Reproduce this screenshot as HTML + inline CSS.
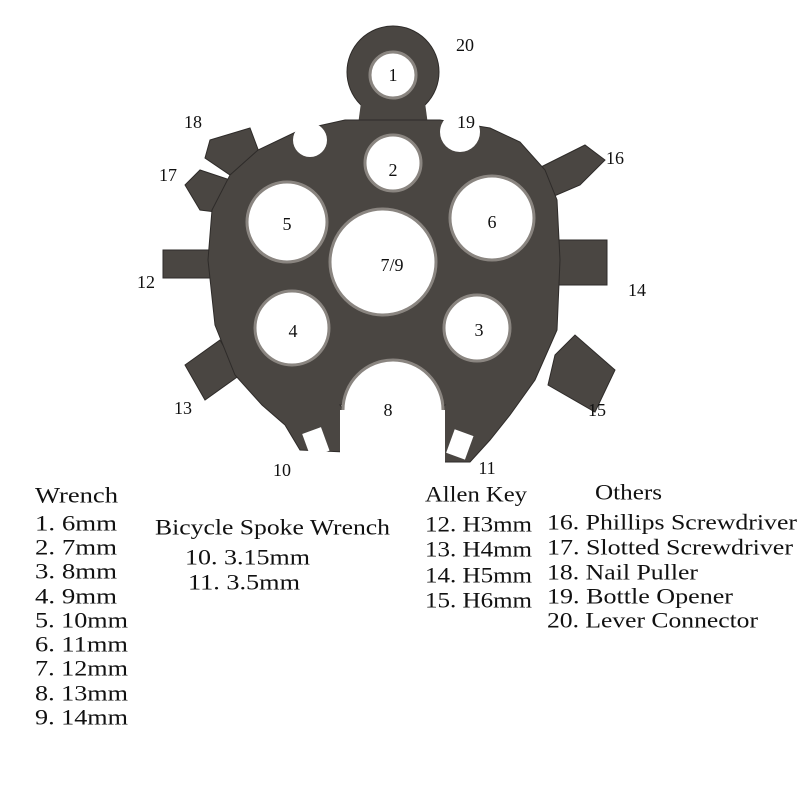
<!DOCTYPE html>
<html><head><style>
html,body{margin:0;padding:0;background:#fff;}
svg{display:block;}
text{font-family:"Liberation Serif",serif;fill:#111;}
</style></head><body>
<svg width="800" height="800" viewBox="0 0 800 800" xmlns="http://www.w3.org/2000/svg">
<rect width="800" height="800" fill="#fff"/>
<g fill="#4a4642" stroke="#2e2b29" stroke-width="1">
  <polygon points="210,140 250,128 262,160 230,175 205,158"/>
  <polygon points="185,185 200,170 245,185 240,215 200,210"/>
  <rect x="163" y="250" width="55" height="28"/>
  <rect x="550" y="240" width="57" height="45"/>
  <polygon points="185,365 220,340 240,375 205,400"/>
  <polygon points="555,355 575,335 615,370 595,412 548,385"/>
  <polygon points="535,170 585,145 605,160 580,185 545,200"/>
  <circle cx="393" cy="72" r="46"/>
  <polygon points="362,95 424,95 430,140 356,140" stroke="none"/>
  <polygon points="230,175 258,150 300,130 345,120 440,120 490,128 520,142 545,170 557,200 560,260 557,330 535,380 510,415 490,440 470,462 425,462 418,430 445,405 340,405 360,430 345,452 300,450 285,425 262,405 235,375 215,325 208,260 212,210"/>
</g>
<g fill="#fff" stroke="#8a8580" stroke-width="3">
  <circle cx="393" cy="75" r="23"/>
  <circle cx="393" cy="163" r="28"/>
  <circle cx="287" cy="222" r="40"/>
  <circle cx="492" cy="218" r="42"/>
  <circle cx="383" cy="262" r="53"/>
  <circle cx="292" cy="328" r="37"/>
  <circle cx="477" cy="328" r="33"/>
  <circle cx="393" cy="410" r="50"/>
</g>
<g fill="#fff">
  <rect x="340" y="410" width="105" height="60"/>
  <circle cx="310" cy="140" r="17"/>
  <circle cx="460" cy="132" r="20"/>
  <rect x="305" y="430" width="20" height="25" transform="rotate(-20 315 440)"/>
  <rect x="450" y="432" width="20" height="25" transform="rotate(20 460 444)"/>
</g>
<g font-size="18" text-anchor="middle" dominant-baseline="central">
  <text x="393" y="75">1</text>
  <text x="393" y="170">2</text>
  <text x="287" y="224">5</text>
  <text x="492" y="222">6</text>
  <text x="392" y="265">7/9</text>
  <text x="293" y="331">4</text>
  <text x="479" y="330">3</text>
  <text x="388" y="410">8</text>
  <text x="465" y="45">20</text>
  <text x="193" y="122">18</text>
  <text x="466" y="122">19</text>
  <text x="168" y="175">17</text>
  <text x="615" y="158">16</text>
  <text x="146" y="282">12</text>
  <text x="637" y="290">14</text>
  <text x="183" y="408">13</text>
  <text x="597" y="410">15</text>
  <text x="282" y="470">10</text>
  <text x="487" y="468">11</text>
</g>
<g font-size="22" dominant-baseline="central">
  <text x="35" y="495" textLength="83" lengthAdjust="spacingAndGlyphs">Wrench</text>
  <text x="35" y="523" textLength="82" lengthAdjust="spacingAndGlyphs">1.  6mm</text>
  <text x="35" y="547" textLength="82" lengthAdjust="spacingAndGlyphs">2.  7mm</text>
  <text x="35" y="571" textLength="82" lengthAdjust="spacingAndGlyphs">3.  8mm</text>
  <text x="35" y="596" textLength="82" lengthAdjust="spacingAndGlyphs">4.  9mm</text>
  <text x="35" y="620" textLength="93" lengthAdjust="spacingAndGlyphs">5.  10mm</text>
  <text x="35" y="644" textLength="93" lengthAdjust="spacingAndGlyphs">6.  11mm</text>
  <text x="35" y="668" textLength="93" lengthAdjust="spacingAndGlyphs">7.  12mm</text>
  <text x="35" y="693" textLength="93" lengthAdjust="spacingAndGlyphs">8.  13mm</text>
  <text x="35" y="717" textLength="93" lengthAdjust="spacingAndGlyphs">9.  14mm</text>
  <text x="155" y="527" textLength="235" lengthAdjust="spacingAndGlyphs">Bicycle Spoke Wrench</text>
  <text x="185" y="557" textLength="125" lengthAdjust="spacingAndGlyphs">10.  3.15mm</text>
  <text x="188" y="582" textLength="112" lengthAdjust="spacingAndGlyphs">11.  3.5mm</text>
  <text x="425" y="494" textLength="102" lengthAdjust="spacingAndGlyphs">Allen Key</text>
  <text x="425" y="524" textLength="107" lengthAdjust="spacingAndGlyphs">12. H3mm</text>
  <text x="425" y="549" textLength="107" lengthAdjust="spacingAndGlyphs">13. H4mm</text>
  <text x="425" y="575" textLength="107" lengthAdjust="spacingAndGlyphs">14. H5mm</text>
  <text x="425" y="600" textLength="107" lengthAdjust="spacingAndGlyphs">15. H6mm</text>
  <text x="595" y="492" textLength="67" lengthAdjust="spacingAndGlyphs">Others</text>
  <text x="547" y="522" textLength="250" lengthAdjust="spacingAndGlyphs">16. Phillips Screwdriver</text>
  <text x="547" y="547" textLength="246" lengthAdjust="spacingAndGlyphs">17. Slotted Screwdriver</text>
  <text x="547" y="572" textLength="151" lengthAdjust="spacingAndGlyphs">18. Nail Puller</text>
  <text x="547" y="596" textLength="186" lengthAdjust="spacingAndGlyphs">19. Bottle Opener</text>
  <text x="547" y="620" textLength="211" lengthAdjust="spacingAndGlyphs">20. Lever Connector</text>
</g>
</svg>
</body></html>
